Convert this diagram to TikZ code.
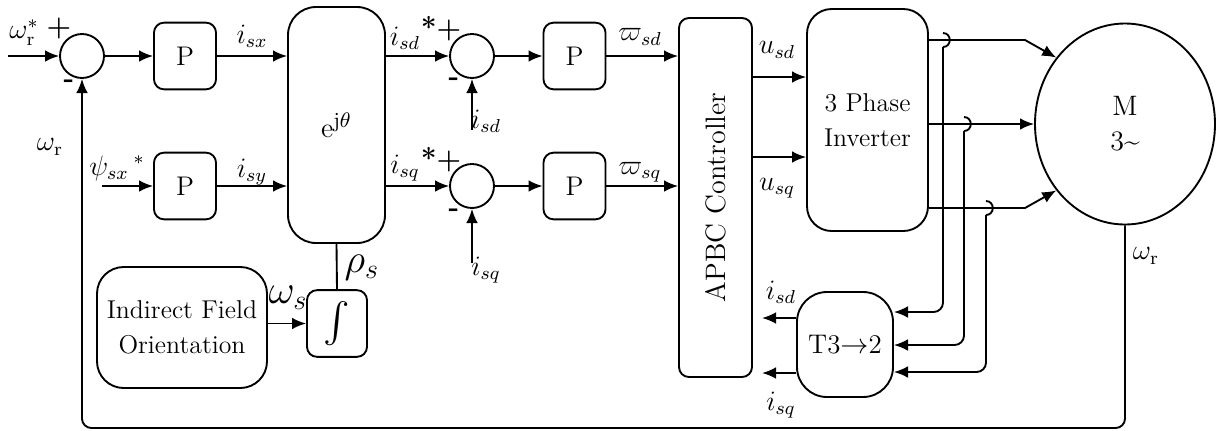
\documentclass[tikz,border=0pt]{standalone}
\usepackage{tikz}
\usetikzlibrary{shapes.geometric,arrows.meta}
\usepackage{amsmath}
\usepackage{amssymb}

\begin{document}
\begin{tikzpicture}[>={Latex[length=6pt,width=5pt]},thick,x=0.015cm,y=-0.015cm,
        blk/.style={draw,rounded corners=0.15cm,minimum width=0.93cm,minimum height=1.0cm,font=\fontsize{11.5}{15}\selectfont,align=center},
        sumpt/.style={draw,circle,minimum size=0.66cm,inner sep=0pt},
        sig/.style={font=\fontsize{12}{14}\selectfont,inner sep=1pt},
        bigsig/.style={font=\fontsize{17}{19}\selectfont,inner sep=1pt},
        sgn/.style={font=\fontsize{12}{14}\selectfont\bfseries,inner sep=0pt}]
        \useasboundingbox (0,0) rectangle (1216,430);

        \node[sumpt] (sumw) at (82,56) {};
        \node[blk] (pw) at (185,56) {P};
        \node[blk] (ppsi) at (185,186) {P};
        \node[blk,rounded corners=0.42cm,minimum width=1.455cm,minimum height=3.54cm,font=\fontsize{12.5}{15}\selectfont] (rot) at (336.5,125) {$\mathrm{e}^{\mathrm{j}\theta}$};
        \node[sumpt] (sumd) at (472,56) {};
        \node[sumpt] (sumq) at (472,186) {};
        \node[blk] (pd) at (574.5,56) {P};
        \node[blk] (pq) at (574.5,186) {P};
        \node[blk,minimum width=1.095cm,minimum height=5.385cm] (apbc) at (715.5,197.5) {};
        \node[rotate=90,font=\fontsize{12}{14}\selectfont] (apbctxt) at (apbc.center) {APBC Controller};
        \node[blk,rounded corners=0.37cm,minimum width=1.815cm,minimum height=3.33cm,font=\fontsize{11}{15}\selectfont] (inv) at (867.5,120) {3 Phase\\Inverter};
        \node[draw,ellipse,minimum width=2.7cm,minimum height=3.015cm,inner sep=0pt,align=center,font=\fontsize{12}{15}\selectfont] (motor) at (1125,124) {M\\3\textasciitilde};
        \node[blk,rounded corners=0.4cm,minimum width=2.55cm,minimum height=1.815cm,font=\fontsize{11}{15}\selectfont] (ifo) at (182,327.5) {Indirect Field\\Orientation};
        \node[blk,minimum width=0.9cm,font=\fontsize{17}{19}\selectfont] (integ) at (337,323.5) {$\int$};
        \node[blk,rounded corners=0.45cm,minimum width=1.44cm,minimum height=1.575cm,font=\fontsize{11.5}{15}\selectfont] (t32) at (845,344.5) {T3$\rightarrow$2};

        \coordinate (wref) at (8,56);
        \coordinate (psiref) at (102,186);
        \coordinate (isdfb) at (472,130);
        \coordinate (isqfb) at (472,263);
        \coordinate (bendA) at (1025,40);
        \coordinate (bendC) at (1025,208);
        \coordinate (isdout) at (762,318);
        \coordinate (isqout) at (762,373);

        \draw[->] (wref) -- (sumw);
        \draw[->] (sumw) -- (pw);
        \draw[->] (pw) -- (rot.west |- pw);
        \draw[->] (psiref) -- (ppsi);
        \draw[->] (ppsi) -- (rot.west |- ppsi);
        \draw[->] (rot.east |- sumd) -- (sumd);
        \draw[->] (rot.east |- sumq) -- (sumq);
        \draw[->] (isdfb) -- (sumd);
        \draw[->] (isqfb) -- (sumq);
        \draw[->] (sumd) -- (pd);
        \draw[->] (sumq) -- (pq);
        \draw[->] (pd) -- (apbc.west |- pd);
        \draw[->] (pq) -- (apbc.west |- pq);
        \draw[->] (apbc.east |- 0,77) -- (inv.west |- 0,77);
        \draw[->] (apbc.east |- 0,157) -- (inv.west |- 0,157);
        \draw[->] (inv.east |- bendA) -- (bendA) -- (motor.136);
        \draw[->] (inv.east |- motor.west) -- (motor.west);
        \draw[->] (inv.east |- bendC) -- (bendC) -- (motor.224);
        \foreach \hx/\hy/\ty in {943/40/312,964/124/345,986/208/372} {
            \draw (\hx,\hy-7) .. controls (\hx+9,\hy-7) and (\hx+9,\hy+7) .. (\hx,\hy+7);
            \draw[->,rounded corners=4pt] (\hx,\hy+7) -- (\hx,\ty) -- (t32.east |- 0,\ty);
        }
        \draw[->] (t32.west |- isdout) -- (isdout);
        \draw[->] (t32.west |- isqout) -- (isqout);
        \draw (rot.south) -- (integ.north);
        \draw[->] (ifo.east |- integ) -- (integ);
        \draw[->,rounded corners=4pt] (motor.south) -- (motor.south |- 0,428) -- (sumw.south |- 0,428) -- (sumw);

        \node[sig] (lwref) at (24,33) {$\omega_{\mathrm{r}}^{*}$};
        \node[sgn] (plw) at (59,28) {+};
        \node[sgn] (mnw) at (69,84) {-};
        \node[sig] (lwfb) at (50,147) {$\omega_{\mathrm{r}}$};
        \node[sig] (lpsi) at (117,168) {$\psi_{sx}\,{}^{*}$};
        \node[sig] (lisx) at (252,36) {$i_{sx}$};
        \node[sig] (lisy) at (252,172) {$i_{sy}$};
        \node[sig] (lisdref) at (405,38) {$i_{sd}$};
        \node[sgn] (pld) at (441,29) {*+};
        \node[sgn] (mnd) at (454,82) {-};
        \node[sig] (lisdfb) at (486,121) {$i_{sd}$};
        \node[sig] (lisqref) at (405,168) {$i_{sq}$};
        \node[sgn] (plq) at (441,160) {*+};
        \node[sgn] (mnq) at (454,213) {-};
        \node[sig] (lisqfb) at (486,270) {$i_{sq}$};
        \node[sig] (lwsd) at (640,37) {$\varpi_{sd}$};
        \node[sig] (lwsq) at (640,172) {$\varpi_{sq}$};
        \node[sig] (lusd) at (777,50) {$u_{sd}$};
        \node[sig] (lusq) at (777,188) {$u_{sq}$};
        \node[sig] (lisdt) at (781,292) {$i_{sd}$};
        \node[sig] (lisqt) at (781,405) {$i_{sq}$};
        \node[sig] (lwr) at (1146,256) {$\omega_{\mathrm{r}}$};
        \node[bigsig] (lws) at (288,298) {$\omega_{s}$};
        \node[bigsig] (lrho) at (362,268) {$\rho_{s}$};
    \end{tikzpicture}
\end{document}
